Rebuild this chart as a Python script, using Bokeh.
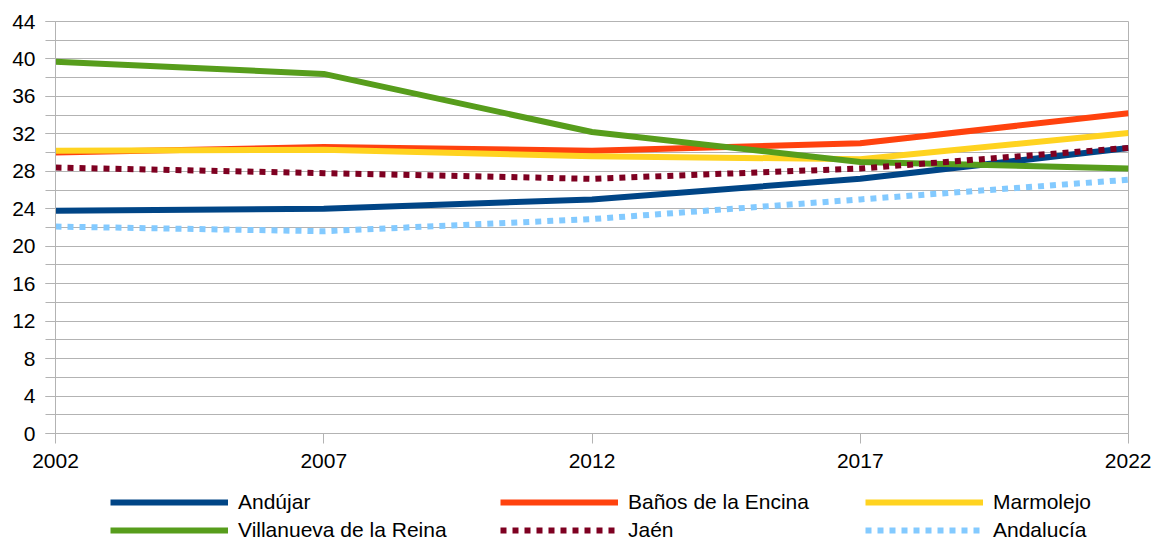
from bokeh.plotting import figure
from bokeh.layouts import column
from bokeh.models import Legend, LegendItem, SingleIntervalTicker, FixedTicker, Range1d
from bokeh.embed import file_html
from bokeh.resources import INLINE

years = [2002, 2007, 2012, 2017, 2022]
series_names = ["Andújar", "Baños de la Encina", "Marmolejo",
                "Villanueva de la Reina", "Jaén", "Andalucía"]
andujar = [23.8, 24.0, 25.0, 27.2, 30.5]
banos = [30.0, 30.6, 30.2, 31.0, 34.2]
marmolejo = [30.2, 30.3, 29.6, 29.3, 32.1]
villanueva = [39.7, 38.4, 32.2, 29.0, 28.3]
jaen = [28.4, 27.8, 27.2, 28.3, 30.5]
andalucia = [22.1, 21.6, 22.9, 25.0, 27.1]
x_ticks = [2002, 2007, 2012, 2017, 2022]

colors = ["#004586", "#ff420e", "#ffd320", "#579d1c", "#7e0021", "#83caff"]
dashes = ["solid", "solid", "solid", "solid", "6 6", "6 6"]
values = [andujar, banos, marmolejo, villanueva, jaen, andalucia]

FONT = "Liberation Sans"
GRAY = "#b3b3b3"
W = 1151

p = figure(width=W, height=477, output_backend="svg", toolbar_location=None,
           x_range=Range1d(2002, 2022), y_range=Range1d(0, 44),
           min_border_left=55, min_border_right=23, min_border_top=21,
           min_border_bottom=44, background_fill_color="white",
           border_fill_color="white", outline_line_color=GRAY)

p.xaxis.ticker = FixedTicker(ticks=x_ticks)
p.yaxis.ticker = SingleIntervalTicker(interval=4, num_minor_ticks=2)

for ax in (p.xaxis, p.yaxis):
    ax.axis_line_color = GRAY
    ax.major_tick_line_color = GRAY
    ax.minor_tick_line_color = GRAY
    ax.major_tick_in = 0
    ax.major_tick_out = 10
    ax.minor_tick_in = 0
    ax.minor_tick_out = 10
    ax.major_label_text_font = FONT
    ax.major_label_text_font_size = "21px"
    ax.major_label_text_color = "#000000"
    ax.major_label_standoff = 10
p.xaxis.minor_tick_line_color = None

p.xgrid.grid_line_color = None
p.ygrid.grid_line_color = GRAY
p.ygrid.minor_grid_line_color = GRAY

for vals, c, d in zip(values, colors, dashes):
    p.line(years, vals, line_color=c, line_width=6, line_dash=d,
           line_cap="butt", line_join="round")

# legend strip: same series, drawn outside its view so only the legend shows
lg = figure(width=W, height=65, output_backend="svg", toolbar_location=None,
            x_range=Range1d(0, 1), y_range=Range1d(0, 1),
            min_border_left=55, min_border_right=23, min_border_top=0,
            min_border_bottom=0, outline_line_color=None,
            background_fill_color="white", border_fill_color="white")
lg.axis.visible = False
lg.grid.visible = False
lrs = []
for vals, c, d in zip(values, colors, dashes):
    lrs.append(lg.line(years, vals, line_color=c, line_width=6, line_dash=d,
                       line_cap="butt"))

pairs = [(0, 3), (1, 4), (2, 5)]
x_pos = [55, 445, 810]
for (a, b), xo in zip(pairs, x_pos):
    leg = Legend(items=[LegendItem(label=series_names[a], renderers=[lrs[a]]),
                        LegendItem(label=series_names[b], renderers=[lrs[b]])],
                 location=(xo, 0), orientation="vertical",
                 glyph_width=118, glyph_height=22, label_height=22,
                 label_standoff=10, spacing=4, padding=0, margin=0,
                 border_line_color=None, background_fill_alpha=0,
                 label_text_font=FONT, label_text_font_size="21px",
                 label_text_color="#000000")
    lg.add_layout(leg, "center")

layout = column(p, lg, spacing=0)
open("out.html", "w").write(file_html(layout, INLINE))
